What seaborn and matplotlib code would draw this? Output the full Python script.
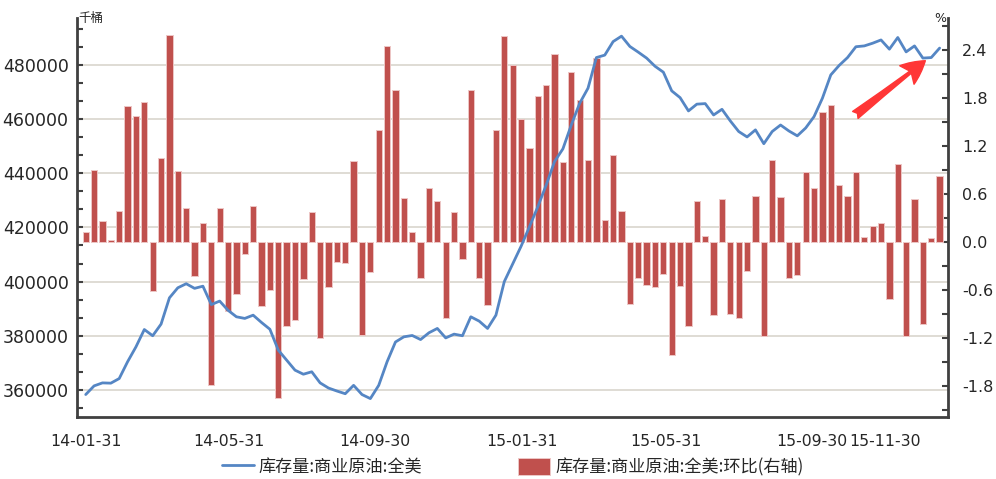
import matplotlib
matplotlib.use("Agg")
import matplotlib.pyplot as plt
import matplotlib.dates as mdates
import matplotlib.ticker as mticker
import numpy as np
import pandas as pd
import seaborn as sns

# weekly (Friday) data, 2014-01-31 .. 2016-01-15
dates = pd.date_range("2014-01-31", "2016-01-15", freq="7D")

# 库存量:商业原油:全美 (千桶)
stock = [
    358300, 361500, 362600, 362500, 364200, 370400, 375900, 382300, 380000, 384300,
    394000, 397700, 399200, 397500, 398300, 391500, 392800, 389400, 387000, 386400,
    387600, 384900, 382400, 374700, 371000, 367300, 365800, 366700, 362600, 360700,
    359600, 358600, 361700, 358300, 356800, 361700, 370400, 377700, 379600, 380100,
    378600, 381100, 382700, 379200, 380600, 380000, 387000, 385400, 382700, 387600,
    400000, 406500, 413000, 420200, 427600, 435600, 444300, 449000, 457800, 465800,
    471400, 482700, 483600, 488600, 490600, 486800, 484700, 482500, 479500, 477300,
    470400, 467900, 463000, 465500, 465700, 461500, 463600, 459300, 455400, 453400,
    456000, 450900, 455400, 457800, 455600, 453800, 456700, 460900, 467700, 476300,
    479800, 482700, 486700, 487000, 488000, 489200, 485800, 490100, 484800, 487000,
    482500, 482700, 486200,
]

# 环比 (%), right axis
wow = [
    0.12, 0.90, 0.26, 0.02, 0.39, 1.70, 1.57, 1.75, -0.62, 1.05,
    2.59, 0.89, 0.43, -0.43, 0.24, -1.79, 0.43, -0.86, -0.65, -0.15,
    0.45, -0.80, -0.60, -1.95, -1.05, -0.98, -0.47, 0.375, -1.20, -0.57,
    -0.25, -0.26, 1.01, -1.17, -0.375, 1.40, 2.45, 1.90, 0.55, 0.12,
    -0.45, 0.68, 0.51, -0.95, 0.375, -0.21, 1.90, -0.45, -0.79, 1.40,
    2.58, 2.21, 1.54, 1.18, 1.83, 1.96, 2.35, 1.00, 2.12, 1.77,
    1.02, 2.30, 0.27, 1.09, 0.39, -0.78, -0.45, -0.54, -0.57, -0.40,
    -1.42, -0.55, -1.05, 0.51, 0.08, -0.92, 0.54, -0.90, -0.95, -0.36,
    0.575, -1.18, 1.03, 0.56, -0.45, -0.42, 0.87, 0.67, 1.63, 1.71,
    0.71, 0.58, 0.87, 0.06, 0.20, 0.24, -0.71, 0.98, -1.18, 0.54,
    -1.03, 0.05, 0.82,
]

tick_dates = ["2014-01-31", "2014-05-31", "2014-09-30", "2015-01-31",
              "2015-05-31", "2015-09-30", "2015-11-30"]

line_label = "库存量:商业原油:全美"
bar_label = "库存量:商业原油:全美:环比(右轴)"

LINE = "#5586C4"
BAR = "#C0504D"
SPINE = "#404040"

sns.set_style("white")
plt.rcParams["font.family"] = ["DejaVu Sans", "Noto Sans CJK SC"]
plt.rcParams["axes.unicode_minus"] = False

x = mdates.date2num(dates)
df = pd.DataFrame({"date": x, "stock": stock, "wow": wow})

fig, ax = plt.subplots(figsize=(9.96, 4.79), dpi=100)
fig.subplots_adjust(left=0.0773, right=0.9518, bottom=0.1294, top=0.9624)
ax2 = ax.twinx()   # bars, right axis
ax3 = ax.twinx()   # line on top, same scale as left axis

sns.barplot(data=df, x="date", y="wow", native_scale=True, orient="x",
            width=0.75, color=BAR, saturation=1, edgecolor="#EDC6C5",
            linewidth=0.7, errorbar=None, ax=ax2)
sns.lineplot(data=df, x="date", y="stock", color=LINE, linewidth=2, ax=ax3)

for a in (ax, ax2, ax3):
    a.set_xlabel("")
    a.set_ylabel("")
    a.set_xlim(x[0] - 7.3, x[-1] + 7)

# left axis
ax.set_ylim(350000, 497300)
ax3.set_ylim(350000, 497300)
ax.yaxis.set_major_locator(mticker.MultipleLocator(20000))
ax.yaxis.set_minor_locator(mticker.MultipleLocator(20000 / 3))
ax.yaxis.set_major_formatter(mticker.StrMethodFormatter("{x:.0f}"))
ax.grid(axis="y", which="major", color="#D9D5CD", linewidth=1.2)
ax.grid(axis="x", visible=False)
ax.tick_params(axis="y", which="both", direction="in", length=4, width=1.5,
               color=SPINE, labelsize=12.5, pad=6)

# right axis
ax2.set_ylim(-2.19, 2.80)
ax2.yaxis.set_major_locator(mticker.MultipleLocator(0.6))
ax2.yaxis.set_minor_locator(mticker.MultipleLocator(0.3))
ax2.yaxis.set_major_formatter(mticker.FormatStrFormatter("%.1f"))
ax2.tick_params(axis="y", which="both", direction="in", length=4, width=1.5,
                color=SPINE, labelsize=11.5, pad=10)

# x axis
month_ends = pd.date_range("2014-02-01", "2016-01-01", freq="MS") - pd.Timedelta(days=1)
ax.xaxis.set_major_locator(mticker.FixedLocator(mdates.date2num(pd.to_datetime(tick_dates))))
ax.xaxis.set_minor_locator(mticker.FixedLocator(mdates.date2num(month_ends)))
ax.xaxis.set_major_formatter(mdates.DateFormatter("%y-%m-%d"))
ax.tick_params(axis="x", which="both", direction="out", length=10, width=1.5,
               color=SPINE, labelsize=11.3, pad=2)

ax3.yaxis.set_visible(False)
for s in ax3.spines.values():
    s.set_visible(False)
for name, s in ax2.spines.items():
    s.set_visible(name == "right")
for name, s in ax.spines.items():
    s.set_visible(name in ("left", "bottom"))
for s in (ax.spines["left"], ax.spines["bottom"], ax2.spines["right"]):
    s.set_color(SPINE)
    s.set_linewidth(2)

# units
ax.text(0.002, 1.0, "千桶", transform=ax.transAxes, ha="left", va="center",
        fontsize=9, family=["Noto Sans CJK SC", "DejaVu Sans"])
ax.text(0.991, 1.0, "%", transform=ax.transAxes, ha="center", va="center", fontsize=9)

# red arrow
ax3.annotate("", xy=(0.974, 0.893), xytext=(0.8936, 0.757), xycoords="axes fraction",
             arrowprops=dict(arrowstyle="fancy,head_length=1.05,head_width=1.05,tail_width=0.4",
                             color="#FF3636", mutation_scale=16, shrinkA=0, shrinkB=0))

if ax3.get_legend() is not None:
    ax3.get_legend().remove()
handles = [ax3.get_lines()[0], ax2.patches[0]]
ax3.legend(handles, [line_label, bar_label], loc="center", bbox_to_anchor=(0.5, -0.125),
           ncol=2, frameon=False, handlelength=1.87, handleheight=1.17,
           handletextpad=0.3, columnspacing=5.6,
           prop={"family": ["Noto Sans CJK SC", "DejaVu Sans"], "size": 12.3})

fig.savefig("out.png", dpi=100)
